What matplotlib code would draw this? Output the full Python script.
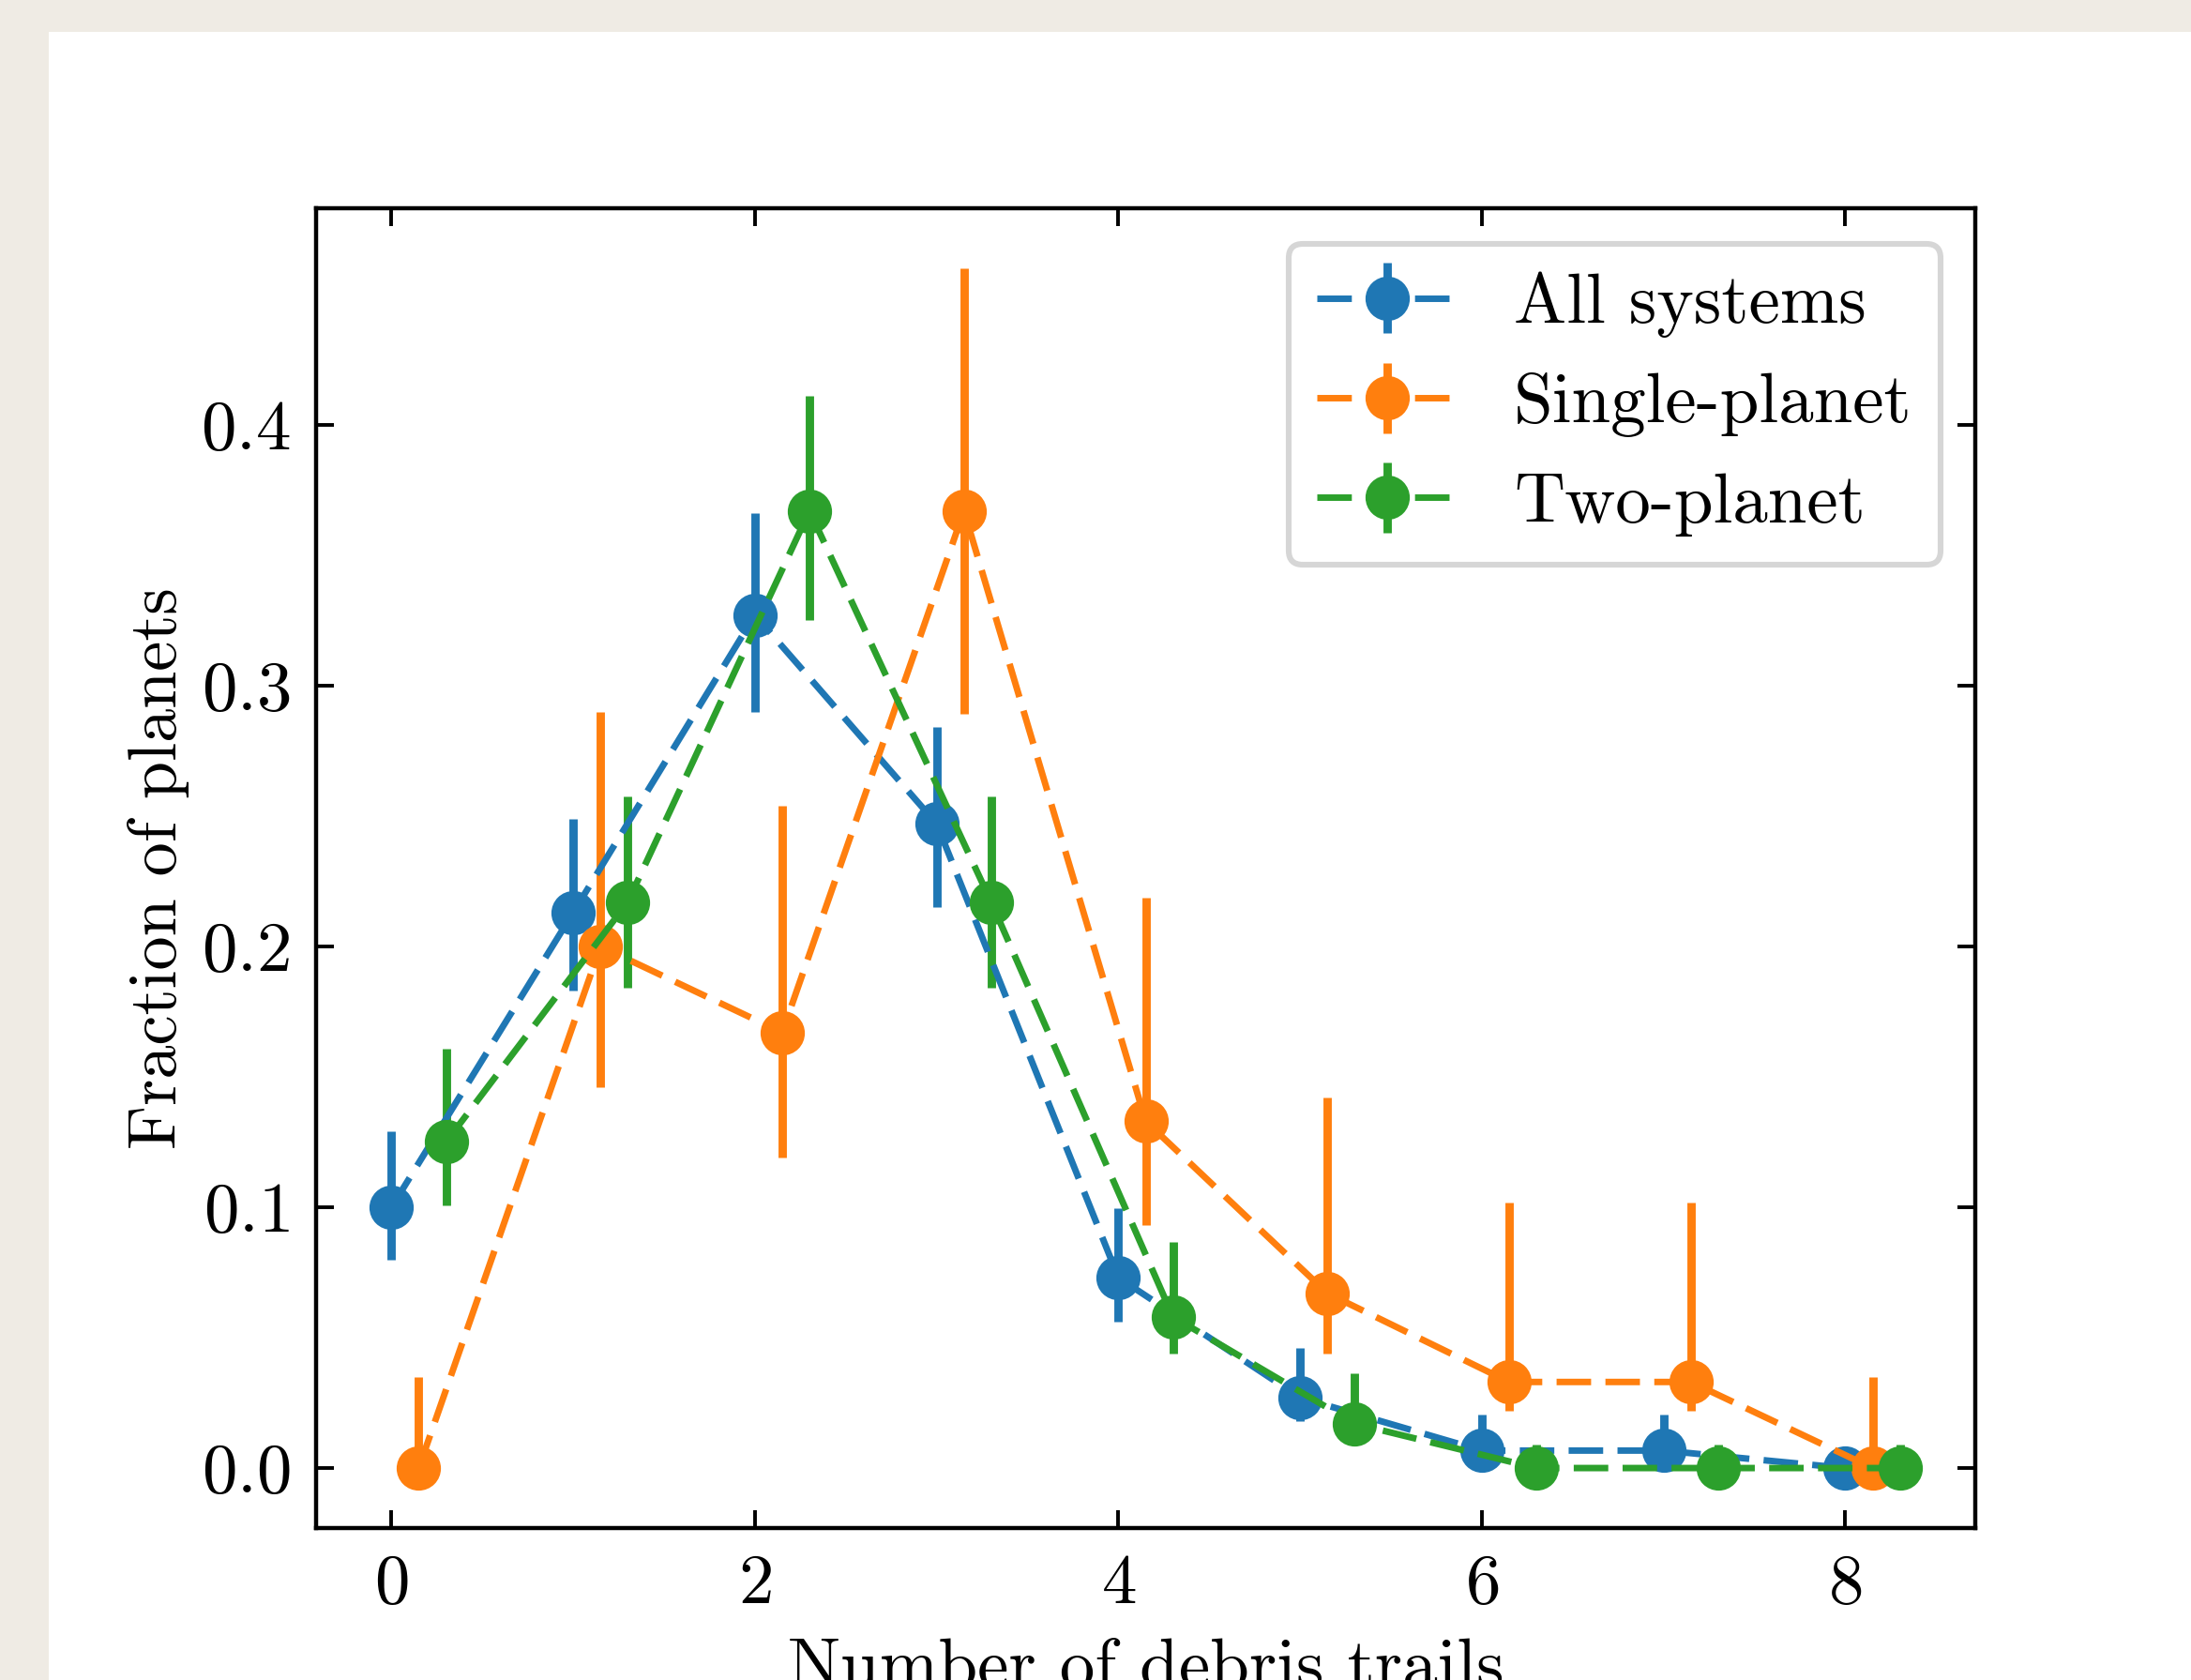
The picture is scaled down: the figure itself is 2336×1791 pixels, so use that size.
import numpy as np
import matplotlib
matplotlib.use("Agg")
import matplotlib.pyplot as plt
from matplotlib.patches import Rectangle

plt.rcParams['font.family'] = 'serif'
plt.rcParams['font.serif'] = ['cmr10', 'DejaVu Serif']
plt.rcParams['mathtext.fontset'] = 'cm'
plt.rcParams['axes.unicode_minus'] = False
plt.rcParams['axes.formatter.use_mathtext'] = True

# data
n_trails = np.arange(9)

all_frac = [0.100, 0.213, 0.327, 0.247, 0.073, 0.027, 0.0067, 0.0067, 0.0]
all_lo = [0.080, 0.183, 0.290, 0.215, 0.056, 0.018, 0.002, 0.002, 0.0]
all_hi = [0.129, 0.249, 0.366, 0.284, 0.0996, 0.046, 0.0205, 0.0205, 0.008]

single_frac = [0.0, 0.200, 0.167, 0.367, 0.133, 0.067, 0.033, 0.033, 0.0]
single_lo = [0.0, 0.146, 0.119, 0.289, 0.093, 0.044, 0.022, 0.022, 0.0]
single_hi = [0.035, 0.290, 0.254, 0.460, 0.2185, 0.142, 0.1017, 0.1017, 0.035]

two_frac = [0.125, 0.217, 0.367, 0.217, 0.058, 0.017, 0.0, 0.0, 0.0]
two_lo = [0.1007, 0.184, 0.325, 0.184, 0.044, 0.009, 0.0, 0.0, 0.0]
two_hi = [0.1606, 0.2576, 0.4112, 0.2576, 0.0867, 0.0364, 0.009, 0.009, 0.009]

labels = ['All systems', 'Single-planet', 'Two-planet']
offsets = [0.0, 0.15, 0.3]
colors = ['#1f77b4', '#ff7f0e', '#2ca02c']

fig = plt.figure(figsize=(11.68, 8.955), dpi=200, facecolor='#efebe4')
fig.patches.append(Rectangle((52 / 2336, 0), 1, 1 - 34 / 1791, transform=fig.transFigure,
                             facecolor='white', edgecolor='none', zorder=-5))
ax = fig.add_axes([337 / 2336, 1 - 1629 / 1791, (2106 - 337) / 2336, (1629 - 222) / 1791])

series = [(all_frac, all_lo, all_hi), (single_frac, single_lo, single_hi), (two_frac, two_lo, two_hi)]
for (y, lo, hi), lab, off, c in zip(series, labels, offsets, colors):
    y = np.array(y)
    err = [y - np.array(lo), np.array(hi) - y]
    eb = ax.errorbar(n_trails + off, y, yerr=err, fmt='o--', color=c, label=lab,
                     lw=2.5, elinewidth=3.2, ms=16, capsize=0)
    eb[0].set_dashes((5.3, 2.2))

ax.set_xlabel('Number of debris trails', fontsize=27, labelpad=8)
ax.set_ylabel('Fraction of planets', fontsize=26)
ax.set_xticks([0, 2, 4, 6, 8])
ax.set_yticks([0.0, 0.1, 0.2, 0.3, 0.4])
ax.tick_params(direction='in', top=True, right=True, length=7, width=1.4, labelsize=27, pad=10)
for s in ax.spines.values():
    s.set_linewidth(1.6)

leg = ax.legend(loc='upper right', fontsize=27, fancybox=True, framealpha=1)
leg.get_frame().set_edgecolor('#d6d6d6')
leg.get_frame().set_linewidth(2.2)

fig.savefig('out.png', dpi=200, facecolor=fig.get_facecolor())
